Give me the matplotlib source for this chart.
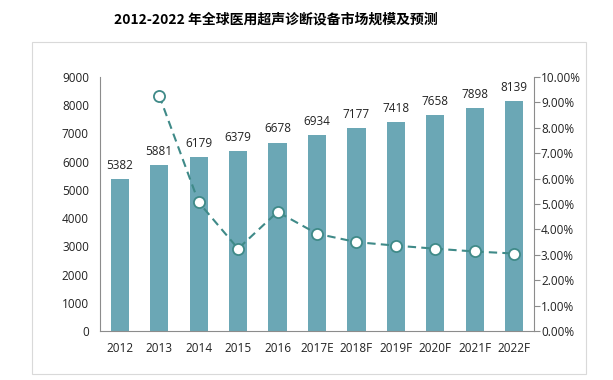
import matplotlib.pyplot as plt
from matplotlib.patches import Rectangle
from matplotlib.ticker import FuncFormatter

plt.rcParams['font.family'] = ['Open Sans', 'DejaVu Sans']

years = ['2012', '2013', '2014', '2015', '2016', '2017E', '2018F', '2019F', '2020F', '2021F', '2022F']
market = [5382, 5881, 6179, 6379, 6678, 6934, 7177, 7418, 7658, 7898, 8139]
growth = [None, 9.27, 5.07, 3.24, 4.69, 3.83, 3.50, 3.36, 3.24, 3.13, 3.05]

bar_color = '#6ba7b5'
line_color = '#3f8a88'

fig = plt.figure(figsize=(6.13, 3.80), dpi=100)
fig.patches.append(Rectangle((32 / 613, 1 - 374 / 380), 554 / 613, 332 / 380,
                             transform=fig.transFigure, fill=False,
                             edgecolor='#d9d9d9', linewidth=0.8))
fig.text(0.45, 1 - 20 / 380, '2012-2022 年全球医用超声诊断设备市场规模及预测',
         ha='center', va='center', fontsize=10, fontweight='bold',
         family=['Noto Sans CJK SC', 'DejaVu Sans'])

ax = fig.add_axes([100 / 613, 1 - 331 / 380, 434 / 613, 254 / 380])
x = list(range(len(years)))
ax.bar(x, market, width=0.46, color=bar_color)
for xi, v in zip(x, market):
    ax.text(xi, v + 250, str(v), ha='center', va='bottom', fontsize=8.5, color='#222222')

ax.set_xlim(-0.5, len(years) - 0.5)
ax.set_ylim(0, 9000)
ax.set_yticks(range(0, 9001, 1000))
ax.set_xticks(x)
ax.set_xticklabels(years)
ax.tick_params(axis='both', length=0, labelsize=8.5, colors='#222222', pad=8)
for s in ['top', 'right']:
    ax.spines[s].set_visible(False)
for s in ['left', 'bottom']:
    ax.spines[s].set_color('#8c8c8c')

ax2 = ax.twinx()
gx = [xi for xi, g in zip(x, growth) if g is not None]
gy = [g for g in growth if g is not None]
ax2.plot(gx, gy, color=line_color, linestyle=(0, (4, 2.5)), linewidth=1.5,
         marker='o', markersize=8, markerfacecolor='white',
         markeredgecolor=line_color, markeredgewidth=1.3)
ax2.set_ylim(0, 10)
ax2.set_yticks(range(0, 11))
ax2.yaxis.set_major_formatter(FuncFormatter(lambda v, p: '%.2f%%' % v))
ax2.tick_params(axis='y', length=4, labelsize=8.5, colors='#222222', pad=1)
ax2.tick_params(axis='y', color='#8c8c8c')
for s in ['top', 'left', 'bottom']:
    ax2.spines[s].set_visible(False)
ax2.spines['right'].set_color('#8c8c8c')

fig.savefig('out.png', dpi=100)
